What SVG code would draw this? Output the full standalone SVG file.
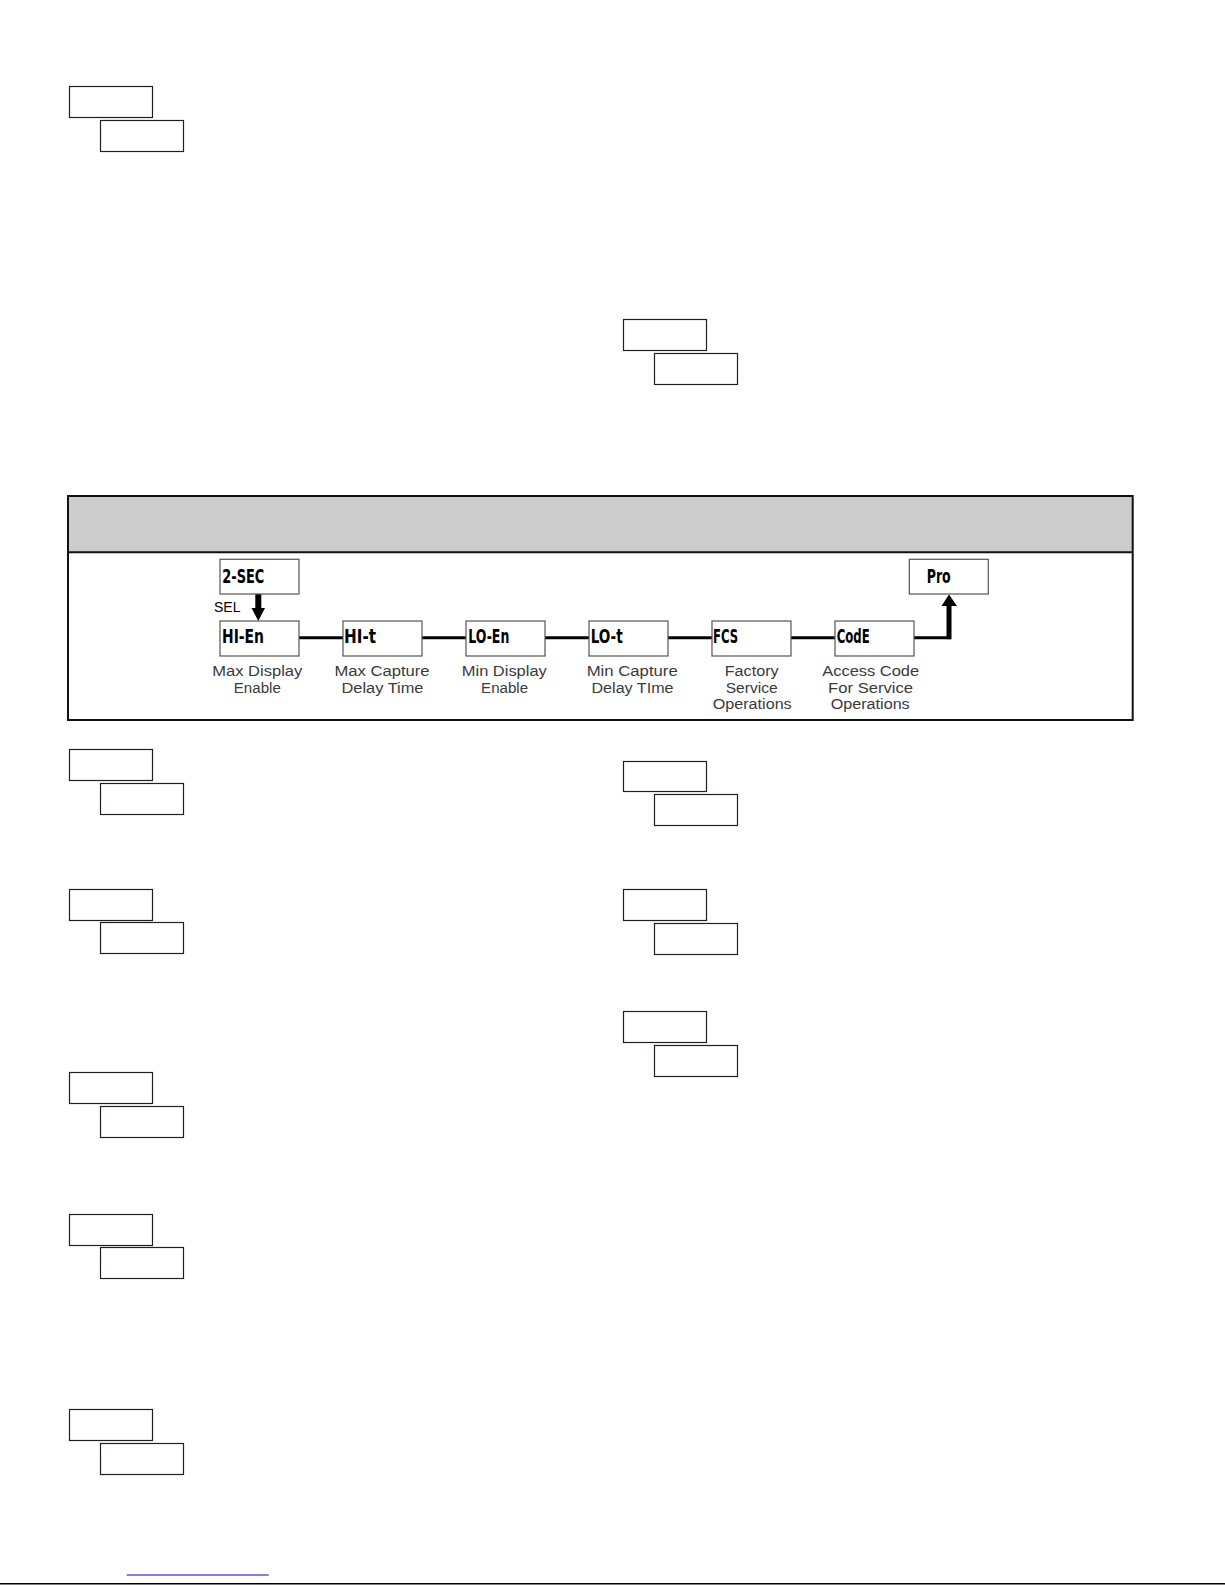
<svg xmlns="http://www.w3.org/2000/svg" width="1225" height="1585" viewBox="0 0 1225 1585">
<style>
.pb{fill:#fff;stroke:#231f20;stroke-width:1.2}
.cb{fill:#fff;stroke:#555;stroke-width:1.2}
.lcd{font-family:"Liberation Sans Narrow","DejaVu Sans Condensed","Liberation Sans",sans-serif;font-weight:bold;font-size:19px;fill:#000}
.lbl{font-family:"Liberation Sans","DejaVu Sans",sans-serif;font-size:14px;fill:#3a3a3a;text-anchor:middle}
.con{fill:none;stroke:#000;stroke-width:3}
</style>
<rect width="1225" height="1585" fill="#fff"/>
<g id="param-boxes-left">
<rect class="pb" x="69.5" y="86.5" width="83" height="31"/><rect class="pb" x="100.5" y="120.5" width="83" height="31"/>
<rect class="pb" x="69.5" y="749.5" width="83" height="31"/><rect class="pb" x="100.5" y="783.5" width="83" height="31"/>
<rect class="pb" x="69.5" y="889.5" width="83" height="31"/><rect class="pb" x="100.5" y="922.5" width="83" height="31"/>
<rect class="pb" x="69.5" y="1072.5" width="83" height="31"/><rect class="pb" x="100.5" y="1106.5" width="83" height="31"/>
<rect class="pb" x="69.5" y="1214.5" width="83" height="31"/><rect class="pb" x="100.5" y="1247.5" width="83" height="31"/>
<rect class="pb" x="69.5" y="1409.5" width="83" height="31"/><rect class="pb" x="100.5" y="1443.5" width="83" height="31"/>
</g>
<g id="param-boxes-right">
<rect class="pb" x="623.5" y="319.5" width="83" height="31"/><rect class="pb" x="654.5" y="353.5" width="83" height="31"/>
<rect class="pb" x="623.5" y="761.5" width="83" height="30"/><rect class="pb" x="654.5" y="794.5" width="83" height="31"/>
<rect class="pb" x="623.5" y="889.5" width="83" height="31"/><rect class="pb" x="654.5" y="923.5" width="83" height="31"/>
<rect class="pb" x="623.5" y="1011.5" width="83" height="31"/><rect class="pb" x="654.5" y="1045.5" width="83" height="31"/>
</g>
<g id="frame">
<rect x="68" y="496" width="1064.7" height="56.3" fill="#cccccc"/>
<rect x="68" y="496" width="1064.7" height="224" fill="none" stroke="#111" stroke-width="2"/>
<line x1="68" y1="552.3" x2="1132.7" y2="552.3" stroke="#111" stroke-width="2"/>
</g>
<g id="connectors">
<line class="con" x1="299" y1="637.7" x2="343" y2="637.7"/>
<line class="con" x1="422" y1="637.7" x2="466" y2="637.7"/>
<line class="con" x1="545" y1="637.7" x2="589" y2="637.7"/>
<line class="con" x1="668" y1="637.7" x2="712" y2="637.7"/>
<line class="con" x1="791" y1="637.7" x2="835" y2="637.7"/>
<line class="con" x1="914" y1="637.7" x2="951" y2="637.7"/>
<rect x="946.5" y="604" width="5" height="35.2" fill="#000"/>
<polygon points="941.5,606 957,606 949,594.5" fill="#000"/>
<rect x="255.3" y="594" width="6" height="15" fill="#000"/>
<polygon points="251.5,608 265,608 258.3,621" fill="#000"/>
<text x="214" y="611.5" font-family="Liberation Sans, sans-serif" font-size="14" fill="#000">SEL</text>
</g>
<g id="node-2sec"><rect class="cb" x="220" y="559.3" width="79" height="34.7"/><text class="lcd" x="222.3" y="583.3" textLength="42" lengthAdjust="spacingAndGlyphs">2-SEC</text></g>
<g id="node-pro"><rect class="cb" x="909.3" y="559.3" width="79" height="34.7"/><text class="lcd" x="926.7" y="582.7" textLength="24" lengthAdjust="spacingAndGlyphs">Pro</text></g>
<g id="node-hien"><rect class="cb" x="220" y="621" width="79" height="35"/><text class="lcd" x="222" y="643.3" textLength="42" lengthAdjust="spacingAndGlyphs">HI-En</text>
<text class="lbl" x="257.3" y="676" textLength="90" lengthAdjust="spacingAndGlyphs">Max  Display</text><text class="lbl" x="257.3" y="692.7" textLength="47" lengthAdjust="spacingAndGlyphs">Enable</text></g>
<g id="node-hit"><rect class="cb" x="343" y="621" width="79" height="35"/><text class="lcd" x="344" y="643.3" textLength="32" lengthAdjust="spacingAndGlyphs">HI-t</text>
<text class="lbl" x="382" y="676" textLength="95" lengthAdjust="spacingAndGlyphs">Max  Capture</text><text class="lbl" x="382.5" y="692.7" textLength="82" lengthAdjust="spacingAndGlyphs">Delay  Time</text></g>
<g id="node-loen"><rect class="cb" x="466" y="621" width="79" height="35"/><text class="lcd" x="468.3" y="643.3" textLength="41" lengthAdjust="spacingAndGlyphs">LO-En</text>
<text class="lbl" x="504.3" y="676" textLength="85" lengthAdjust="spacingAndGlyphs">Min  Display</text><text class="lbl" x="504.6" y="692.7" textLength="47" lengthAdjust="spacingAndGlyphs">Enable</text></g>
<g id="node-lot"><rect class="cb" x="589" y="621" width="79" height="35"/><text class="lcd" x="590.7" y="643.3" textLength="32" lengthAdjust="spacingAndGlyphs">LO-t</text>
<text class="lbl" x="632.2" y="676" textLength="91" lengthAdjust="spacingAndGlyphs">Min  Capture</text><text class="lbl" x="632.5" y="692.7" textLength="82" lengthAdjust="spacingAndGlyphs">Delay  TIme</text></g>
<g id="node-fcs"><rect class="cb" x="712" y="621" width="79" height="35"/><text class="lcd" x="713" y="643.3" textLength="25" lengthAdjust="spacingAndGlyphs">FCS</text>
<text class="lbl" x="751.7" y="676" textLength="54" lengthAdjust="spacingAndGlyphs">Factory</text><text class="lbl" x="751.7" y="692.7" textLength="52" lengthAdjust="spacingAndGlyphs">Service</text><text class="lbl" x="752.2" y="709.3" textLength="79" lengthAdjust="spacingAndGlyphs">Operations</text></g>
<g id="node-code"><rect class="cb" x="835" y="621" width="79" height="35"/><text class="lcd" x="836.7" y="643.3" textLength="33" lengthAdjust="spacingAndGlyphs">CodE</text>
<text class="lbl" x="870.7" y="676" textLength="97" lengthAdjust="spacingAndGlyphs">Access  Code</text><text class="lbl" x="870.6" y="692.7" textLength="85" lengthAdjust="spacingAndGlyphs">For  Service</text><text class="lbl" x="870.2" y="709.3" textLength="79" lengthAdjust="spacingAndGlyphs">Operations</text></g>
<g id="footer">
<line x1="126.7" y1="1575" x2="268.7" y2="1575" stroke="#0000cc" stroke-width="1.2"/>
<line x1="0" y1="1583.7" x2="1225" y2="1583.7" stroke="#000" stroke-width="1.5"/>
</g>
</svg>
